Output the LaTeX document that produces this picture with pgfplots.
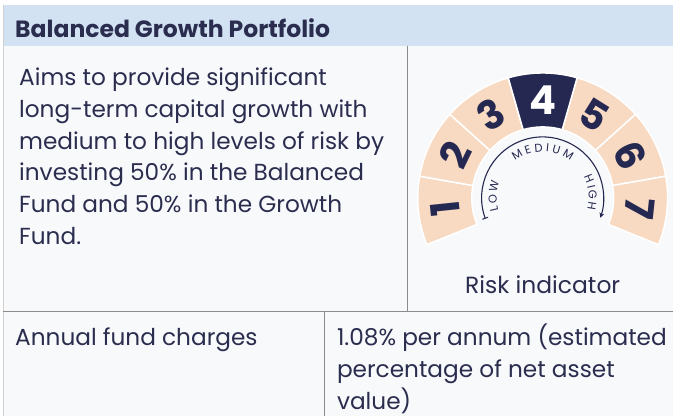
\documentclass[border=0pt]{standalone}
\usepackage{pgfplots}
\pgfplotsset{compat=1.18}
\usepackage{fontspec}
\setmainfont{Poppins}
\usetikzlibrary{arrows.meta,decorations.text}

\definecolor{navy}{HTML}{252850}
\definecolor{ink}{HTML}{2B2D4F}
\definecolor{peach}{HTML}{F8DAC2}
\definecolor{band}{HTML}{D2E2F3}
\definecolor{card}{HTML}{F8F9FB}
\definecolor{rule}{HTML}{8C8C8C}

% risk level shown on the dial (1..7)
\def\risklevel{4}

\begin{document}
\begin{tikzpicture}
\begin{axis}[width=673bp, height=416bp, scale only axis,
    xmin=0, xmax=673, ymin=0, ymax=416,
    hide axis, clip=false]

% card, header band and dividers
\fill[white] (axis cs:0,0) rectangle (axis cs:673,416);
\fill[card] (axis cs:3,0) rectangle (axis cs:673,411);
\fill[band] (axis cs:3,370) rectangle (axis cs:673,411);
\draw[rule!40, line width=0.6bp] (axis cs:3,0) -- (axis cs:3,411);
\draw[rule, line width=0.8bp] (axis cs:408,370) -- (axis cs:408,104);
\draw[rule, line width=0.8bp] (axis cs:3,104) -- (axis cs:673,104);
\draw[rule, line width=0.8bp] (axis cs:325,104) -- (axis cs:325,0);

% title
\node[anchor=base west, text=ink, font=\fontsize{23.6}{27}\selectfont\bfseries, inner xsep=0pt]
  at (axis cs:15,378) {Balanced Growth Portfolio};

% description
\begin{scope}[every node/.style={anchor=base west, inner xsep=0pt, text=ink, font=\fontsize{23.3}{27}\selectfont}]
\node at (axis cs:19,330) {Aims to provide significant};
\node at (axis cs:19,298) {long-term capital growth with};
\node at (axis cs:19,266.5) {medium to high levels of risk by};
\node at (axis cs:19,235) {investing 50\% in the Balanced};
\node at (axis cs:19,203) {Fund and 50\% in the Growth};
\node at (axis cs:19,171) {Fund.};
\end{scope}

% dial centre
\coordinate (C) at (axis cs:543,218);

% dial segments
\pgfplotsinvokeforeach{1,...,7}{
  \fill[peach, draw=white, line width=1.5bp, shift={(axis cs:543,218)}]
    ({202-32*(#1-1)}:125bp) arc[start angle={202-32*(#1-1)}, end angle={202-32*#1}, radius=125bp]
    -- ({202-32*#1}:71bp) arc[start angle={202-32*#1}, end angle={202-32*(#1-1)}, radius=71bp] -- cycle;
}
\fill[navy, draw=white, line width=1.5bp, shift={(axis cs:543,218)}]
  ({202-32*(\risklevel-1)}:125bp) arc[start angle={202-32*(\risklevel-1)}, end angle={202-32*\risklevel}, radius=125bp]
  -- ({202-32*\risklevel}:71bp) arc[start angle={202-32*\risklevel}, end angle={202-32*(\risklevel-1)}, radius=71bp] -- cycle;
\pgfplotsinvokeforeach{1,...,7}{
  \node[text=navy, rotate={186-32*(#1-1)-90}, font=\fontsize{40}{40}\selectfont\bfseries]
    at ([shift={({186-32*(#1-1)}:98bp)}]C) {#1};
}
\node[text=white, font=\fontsize{40}{40}\selectfont\bfseries] at ([shift={(90:98bp)}]C) {\risklevel};

% low to high arrow
\draw[navy, line width=1.1bp, {Bar[width=6bp,line width=1bp]}-{Stealth[length=5bp,width=5bp]}, shift={(axis cs:543,218)}]
  (200:61bp) arc[start angle=200, end angle=-19, radius=61bp];
\path[shift={(axis cs:543,218)}, decorate, decoration={text along path, text color=navy,
    text={|\fontsize{11.5}{12}\selectfont|MEDIUM}, text align=fit to path}]
  (127:46bp) arc[start angle=127, end angle=53, radius=46bp];
\path[shift={(axis cs:543,218)}, decorate, decoration={text along path, text color=navy,
    text={|\fontsize{11.5}{12}\selectfont|LOW}, text align=fit to path}]
  (196:46bp) arc[start angle=196, end angle=160, radius=46bp];
\path[shift={(axis cs:543,218)}, decorate, decoration={text along path, text color=navy,
    text={|\fontsize{11.5}{12}\selectfont|HIGH}, text align=fit to path}]
  (27:46bp) arc[start angle=27, end angle=-14, radius=46bp];

\node[anchor=base, text=ink, font=\fontsize{23.5}{27}\selectfont] at (axis cs:543,122) {Risk indicator};

% charges row
\begin{scope}[every node/.style={anchor=base west, inner xsep=0pt, text=ink, font=\fontsize{23.3}{27}\selectfont}]
\node at (axis cs:15,70) {Annual fund charges};
\node at (axis cs:337,70) {1.08\% per annum (estimated};
\node at (axis cs:337,38) {percentage of net asset};
\node at (axis cs:337,6) {value)};
\end{scope}

\end{axis}
\end{tikzpicture}
\end{document}
